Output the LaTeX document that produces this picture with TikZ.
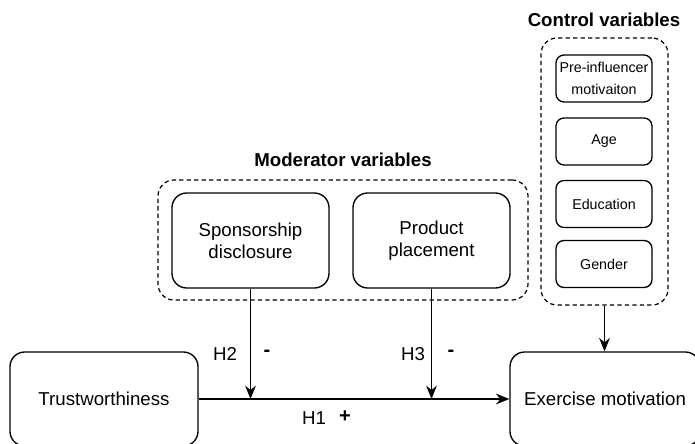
\documentclass[tikz,border=0pt]{standalone}
\usepackage{fontspec}
\setmainfont{Liberation Sans}
\usetikzlibrary{arrows.meta}

\begin{document}
\begin{tikzpicture}[x=0.75pt, y=-0.75pt]
    \tikzstyle{bigbox}=[draw,line width=1pt,rounded corners=11pt,inner sep=0pt,align=center,font=\fontsize{14}{16.5}\selectfont]
    \tikzstyle{smallbox}=[draw,line width=1pt,rounded corners=6pt,inner sep=0pt,align=center,minimum width=72pt,minimum height=35.25pt,font=\fontsize{10.7}{16.5}\selectfont]
    \tikzstyle{group}=[draw,line width=0.9pt,dash pattern=on 3.2pt off 2.4pt,rounded corners=12pt,inner sep=0pt]
    \tikzstyle{title}=[font=\fontsize{14}{16.5}\selectfont\bfseries]
    \tikzstyle{hlabel}=[font=\fontsize{14}{16.5}\selectfont]
    \tikzstyle{sign}=[font=\fontsize{15}{16.5}\selectfont\bfseries]
    \tikzstyle{arrow}=[draw,line width=1pt,-{Stealth[length=10pt,width=8pt]}]
    \useasboundingbox (0,0) rectangle (695,443);
    % groups
    \node[group,minimum width=277.5pt,minimum height=90pt] (mod) at (343,240) {};
    \node[title] (modtitle) at (343,160) {Moderator variables};
    \node[group,minimum width=95.25pt,minimum height=200.25pt] (ctrl) at (604.5,171.5) {};
    \node[title] (ctrltitle) at (604,20) {Control variables};
    % moderators
    \node[bigbox,minimum width=117.75pt,minimum height=71.25pt] (spons) at (250.5,240.5) {Sponsorship\\disclosure};
    \node[bigbox,minimum width=117.75pt,minimum height=71.25pt] (prod) at (431.5,240.5) {Product\\placement};
    % controls
    \node[smallbox] (pre) at (604,78.5) {Pre-influencer\\motivaiton};
    \node[smallbox] (age) at (604,141.5) {Age};
    \node[smallbox] (edu) at (604,204) {Education};
    \node[smallbox] (gen) at (604,264) {Gender};
    % main variables
    \node[bigbox,minimum width=141pt,minimum height=70.5pt] (trust) at (104,399) {Trustworthiness};
    \node[bigbox,minimum width=142.5pt,minimum height=70.5pt] (exer) at (605,399) {Exercise motivation};
    % connectors
    \draw[arrow] (trust.east) -- (exer.west);
    \draw[arrow] (spons.south) -- (spons.south |- trust.east);
    \draw[arrow] (prod.south) -- (prod.south |- trust.east);
    \draw[arrow] (ctrl.south) -- (ctrl.south |- exer.north);
    % hypotheses
    \node[hlabel] (h2) at (225,354) {H2};
    \node[sign] (h2s) at (267,353) {-};
    \node[hlabel] (h3) at (413,354) {H3};
    \node[sign] (h3s) at (451,353) {-};
    \node[hlabel] (h1) at (314,418) {H1};
    \node[sign] (h1s) at (345,417) {+};
\end{tikzpicture}
\end{document}
